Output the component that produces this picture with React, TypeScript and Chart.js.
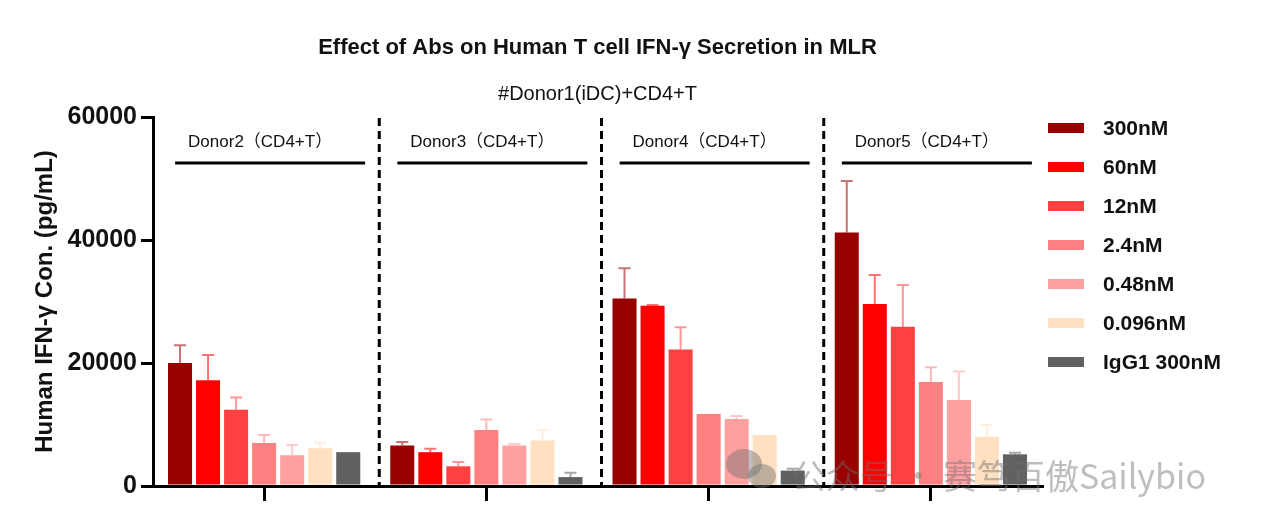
import { useEffect, useRef } from "react";
import { Chart, registerables } from "chart.js";

Chart.register(...registerables);

const donors = ["Donor2", "Donor3", "Donor4", "Donor5"];
const doses = ["300nM", "60nM", "12nM", "2.4nM", "0.48nM", "0.096nM", "IgG1 300nM"];
const colors = ["#990000", "#ff0000", "#ff4040", "#ff8080", "#ffa0a0", "#ffe0c0", "#616161"];
const yTicks = [0, 20000, 40000, 60000];

// mean values per dose, one per donor
const mean300 = [20000, 6600, 30500, 41200];
const mean60 = [17200, 5500, 29300, 29600];
const mean12 = [12400, 3200, 22200, 25900];
const mean2_4 = [7000, 9100, 11700, 16900];
const mean0_48 = [5000, 6600, 10900, 14000];
const mean0_096 = [6150, 7400, 8300, 8000];
const meanIgG1 = [5500, 1450, 2500, 5150];

// upper error (SD) per dose
const sd300 = [2900, 550, 4900, 8400];
const sd60 = [4100, 550, 150, 4700];
const sd12 = [2000, 700, 3600, 6800];
const sd2_4 = [1300, 1700, 0, 2400];
const sd0_48 = [1650, 230, 500, 4600];
const sd0_096 = [900, 1650, 0, 1900];
const sdIgG1 = [0, 700, 300, 250];

const means = [mean300, mean60, mean12, mean2_4, mean0_48, mean0_096, meanIgG1];
const sds = [sd300, sd60, sd12, sd2_4, sd0_48, sd0_096, sdIgG1];

const FONT = "'Liberation Sans', Arial, sans-serif";

const decorPlugin = {
  id: "decor",
  afterDatasetsDraw(chart: any) {
    const { ctx, chartArea, scales } = chart;
    const xs = scales.x;
    const ys = scales.y;
    ctx.save();

    // error bars (upper only)
    chart.data.datasets.forEach((ds: any, i: number) => {
      const meta = chart.getDatasetMeta(i);
      meta.data.forEach((bar: any, j: number) => {
        const sd = sds[i][j];
        if (!sd) return;
        const top = ys.getPixelForValue(ds.data[j] + sd);
        ctx.globalAlpha = 0.55;
        ctx.strokeStyle = colors[i];
        ctx.lineWidth = 2;
        ctx.beginPath();
        ctx.moveTo(bar.x, bar.y);
        ctx.lineTo(bar.x, top);
        ctx.moveTo(bar.x - 6, top);
        ctx.lineTo(bar.x + 6, top);
        ctx.stroke();
      });
    });
    ctx.globalAlpha = 1;

    // dashed separators between donors
    ctx.strokeStyle = "#000";
    ctx.lineWidth = 3;
    ctx.setLineDash([8, 5]);
    for (let i = 0; i < donors.length - 1; i++) {
      const sx = (xs.getPixelForValue(i) + xs.getPixelForValue(i + 1)) / 2 + 4;
      ctx.beginPath();
      ctx.moveTo(sx, chartArea.top + 1);
      ctx.lineTo(sx, chartArea.bottom);
      ctx.stroke();
    }
    ctx.setLineDash([]);

    // donor group labels
    ctx.fillStyle = "#111";
    ctx.font = `17px ${FONT}, 'Noto Sans CJK SC'`;
    ctx.textAlign = "center";
    ctx.textBaseline = "middle";
    donors.forEach((d, i) => {
      const cx = xs.getPixelForValue(i);
      ctx.fillText(`${d}（CD4+T）`, cx - 4, chartArea.top + 25);
      ctx.beginPath();
      ctx.moveTo(cx - 89, chartArea.top + 46);
      ctx.lineTo(cx + 101, chartArea.top + 46);
      ctx.stroke();
    });

    // legend
    ctx.textAlign = "left";
    ctx.font = `bold 21px ${FONT}`;
    doses.forEach((d, i) => {
      const ly = chartArea.top + 11 + i * 39;
      ctx.fillStyle = colors[i];
      ctx.fillRect(chartArea.right + 6, ly - 5, 36, 10);
      ctx.fillStyle = "#111";
      ctx.fillText(d, chartArea.right + 61, ly + 1);
    });

    // watermark
    ctx.globalAlpha = 0.45;
    ctx.fillStyle = "#6e6e6e";
    ctx.beginPath();
    ctx.ellipse(chartArea.right - 298, chartArea.bottom - 22, 18, 15, 0, 0, Math.PI * 2);
    ctx.fill();
    ctx.beginPath();
    ctx.ellipse(chartArea.right - 280, chartArea.bottom - 10, 14, 12, 0, 0, Math.PI * 2);
    ctx.fill();
    ctx.font = `34px 'Noto Sans CJK SC', 'Noto Sans', sans-serif`;
    ctx.textAlign = "right";
    ctx.fillText("公众号 · 赛笃百傲Sailybio", chartArea.right + 164, chartArea.bottom - 10);
    ctx.restore();
  },
};

const App = () => {
  const canvasRef = useRef<HTMLCanvasElement>(null);

  useEffect(() => {
    if (!canvasRef.current) return;
    const ctx = canvasRef.current.getContext("2d");
    if (!ctx) return;
    Chart.defaults.font.family = FONT;
    Chart.defaults.color = "#111";

    const chart = new Chart(ctx, {
      type: "bar",
      data: {
        labels: donors,
        datasets: doses.map((d, i) => ({
          label: d,
          data: means[i],
          backgroundColor: colors[i],
          borderWidth: 0,
          categoryPercentage: 0.883,
          barPercentage: 0.857,
        })),
      },
      options: {
        animation: false,
        responsive: true,
        maintainAspectRatio: false,
        layout: { padding: { left: 0, right: 234, top: 0, bottom: 0 } },
        plugins: {
          legend: { display: false },
          tooltip: { enabled: false },
          title: {
            display: true,
            fullSize: false,
            text: "Effect of Abs on Human T cell IFN-γ Secretion in MLR",
            font: { size: 22, weight: "bold" },
            color: "#111",
            padding: { top: 35, bottom: 0 },
          },
          subtitle: {
            display: true,
            fullSize: false,
            text: "#Donor1(iDC)+CD4+T",
            font: { size: 20 },
            color: "#111",
            padding: { top: 21, bottom: 10.6 },
          },
        },
        scales: {
          x: {
            offset: true,
            grid: {
              drawOnChartArea: false,
              offset: false,
              color: "#000",
              lineWidth: 3,
              tickLength: 15,
            },
            border: { color: "#000", width: 3 },
            ticks: { display: false },
            afterFit: (scale: any) => {
              scale.height = 29;
            },
          },
          y: {
            min: 0,
            max: 60000,
            afterBuildTicks: (scale: any) => {
              scale.ticks = yTicks.map((v) => ({ value: v }));
            },
            grid: {
              drawOnChartArea: false,
              color: "#000",
              lineWidth: 3,
              tickLength: 12,
            },
            border: { color: "#000", width: 3 },
            ticks: {
              padding: 4,
              color: "#111",
              font: { size: 25, weight: "bold" },
              callback: (v: any) => String(v),
            },
            title: {
              display: true,
              text: "Human IFN-γ Con. (pg/mL)",
              color: "#111",
              font: { size: 24, weight: "bold" },
              padding: { top: 31, bottom: 0 },
            },
            afterFit: (scale: any) => {
              scale.width = 153;
            },
          },
        },
      },
      plugins: [decorPlugin],
    });

    return () => {
      chart.destroy();
    };
  }, []);

  return (
    <div style={{ position: "fixed", left: 0, top: 0, width: 1276, height: 515, background: "#fff" }}>
      <canvas ref={canvasRef}></canvas>
    </div>
  );
};

export default App;
